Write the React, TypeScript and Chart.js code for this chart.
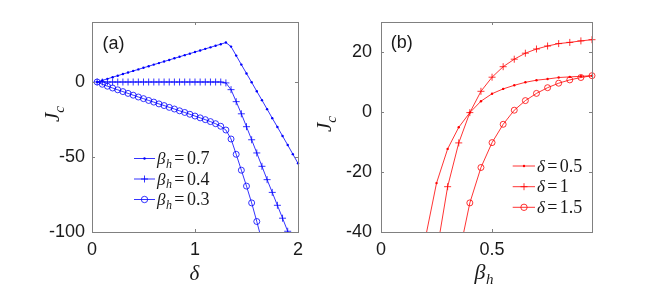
import React, { useEffect, useRef } from 'react';
import { Chart, registerables } from 'chart.js';
Chart.register(...registerables);

// ---------- Panel (a): Jc vs delta ----------
const DELTA = [0.05, 0.1, 0.15, 0.2, 0.25, 0.3, 0.35, 0.4, 0.45, 0.5, 0.55, 0.6, 0.65, 0.7, 0.75, 0.8, 0.85, 0.9, 0.95, 1.0,
  1.05, 1.1, 1.15, 1.2, 1.25, 1.3, 1.35, 1.4, 1.45, 1.5, 1.55, 1.6, 1.65, 1.7, 1.75, 1.8, 1.85, 1.9, 1.95, 2.0];
const JC_BETA_07 = [0, 1.1, 2.1, 3.2, 4.2, 5.3, 6.3, 7.4, 8.4, 9.5, 10.5, 11.6, 12.6, 13.7, 14.7, 15.8, 16.8, 17.9, 18.9, 20.0,
  21.0, 22.1, 23.1, 24.2, 25.2, 26.3, 23.6, 17.6, 11.6, 5.7, -0.2, -6.2, -12.1, -18.1, -24.1, -30.0, -36.0, -42.0, -48.1, -54.2];
const JC_BETA_04 = [0, 0, 0, 0, 0, 0, 0, 0, 0, 0, 0, 0, 0, 0, 0, 0, 0, 0, 0, 0,
  0, 0, 0, 0, 0, -0.6, -5.1, -13.1, -21.2, -29.8, -38.5, -47.3, -56.2, -65.1, -73.6, -82.2, -90.8, -99.5, -108.2, null];
const JC_BETA_03 = [0, -1.5, -2.8, -4.0, -5.2, -6.4, -7.6, -8.8, -10.0, -11.1, -12.3, -13.4, -14.6, -15.7, -16.9, -18.0, -19.2, -20.3, -21.5, -22.7,
  -23.9, -25.1, -26.4, -27.8, -29.5, -32.0, -38.0, -48.2, -58.8, -69.4, -80.6, -93.0, -106.0, null, null, null, null, null, null, null];
const A_X_TICKS = [0, 1, 2];
const A_Y_TICKS = [-100, -50, 0];
const A_LEGEND = ['0.7', '0.4', '0.3'];

// ---------- Panel (b): Jc vs beta_h ----------
const BETA_D05 = [0.2, 0.25, 0.3, 0.35, 0.4, 0.45, 0.5, 0.55, 0.6, 0.65, 0.7, 0.75, 0.8, 0.85, 0.9, 0.95];
const JC_D05 = [-42.0, -23.7, -12.3, -5.1, -0.2, 3.6, 6.1, 7.7, 8.9, 9.9, 10.6, 11.0, 11.5, 11.7, 11.9, 12.1];
const BETA_D1 = [0.25, 0.3, 0.35, 0.4, 0.45, 0.5, 0.55, 0.6, 0.65, 0.7, 0.75, 0.8, 0.85, 0.9, 0.95];
const JC_D1 = [-47.0, -24.9, -10.3, -0.2, 6.9, 11.6, 15.1, 17.6, 19.6, 21.0, 22.0, 22.8, 23.2, 23.7, 24.1];
const BETA_D15 = [0.35, 0.4, 0.45, 0.5, 0.55, 0.6, 0.65, 0.7, 0.75, 0.8, 0.85, 0.9, 0.95];
const JC_D15 = [-48.0, -30.3, -18.5, -10.2, -4.1, 0.6, 3.8, 6.2, 8.1, 9.6, 10.7, 11.5, 12.1];
const B_X_TICKS = [0, 0.5];
const B_Y_TICKS = [-40, -20, 0, 20];
const B_LEGEND = ['0.5', '1', '1.5'];

const BLUE = '#0000ff';
const RED = '#ff0000';
const AXIS = '#808080';
const TEXT = '#1a1a1a';
const SANS = '"Liberation Sans", Arial, Helvetica, sans-serif';
const SERIF = '"Liberation Serif", "Times New Roman", serif';

type Part = { t: string; font: string; dy?: number; dx?: number };
type Kind = 'dot' | 'plus' | 'circle';

function drawParts(ctx: CanvasRenderingContext2D, parts: Part[], x: number, y: number, align: 'left' | 'center') {
  const widths = parts.map((p) => { ctx.font = p.font; return ctx.measureText(p.t).width; });
  const total = widths.reduce((s, w, i) => s + w + (parts[i].dx || 0), 0);
  let cx = align === 'center' ? x - total / 2 : x;
  ctx.textAlign = 'left';
  ctx.textBaseline = 'alphabetic';
  parts.forEach((p, i) => {
    cx += p.dx || 0;
    ctx.font = p.font;
    ctx.fillText(p.t, cx, y + (p.dy || 0));
    cx += widths[i];
  });
}

function mathLabel(sym: string, sub: string | null, value: string | null, size: number): Part[] {
  const parts: Part[] = [{ t: sym, font: `italic ${size}px ${SERIF}` }];
  if (sub) parts.push({ t: sub, font: `italic ${Math.round(size * 0.7)}px ${SERIF}`, dy: size * 0.22, dx: 0.5 });
  if (value !== null) {
    parts.push({ t: '=', font: `${size + 1}px ${SERIF}`, dx: size * 0.14 });
    parts.push({ t: value, font: `${size + 1}px ${SERIF}`, dx: size * 0.14 });
  }
  return parts;
}

function drawMarker(ctx: CanvasRenderingContext2D, kind: Kind, x: number, y: number, color: string) {
  ctx.save();
  ctx.strokeStyle = color;
  ctx.fillStyle = color;
  ctx.lineWidth = 0.8;
  if (kind === 'dot') {
    ctx.beginPath(); ctx.arc(x, y, 1.2, 0, Math.PI * 2); ctx.fill();
  } else if (kind === 'plus') {
    ctx.beginPath(); ctx.moveTo(x - 3.5, y); ctx.lineTo(x + 3.5, y); ctx.moveTo(x, y - 3.5); ctx.lineTo(x, y + 3.5); ctx.stroke();
  } else {
    ctx.beginPath(); ctx.arc(x, y, 3.2, 0, Math.PI * 2); ctx.stroke();
  }
  ctx.restore();
}

function drawFrame(chart: any) {
  const { ctx, chartArea: a } = chart;
  ctx.save();
  ctx.strokeStyle = AXIS;
  ctx.lineWidth = 1;
  ctx.strokeRect(a.left + 0.5, a.top + 0.5, a.right - a.left, a.bottom - a.top);
  const xs = chart.scales.x, ys = chart.scales.y;
  ctx.beginPath();
  xs.ticks.forEach((t: any) => {
    const px = Math.round(xs.getPixelForValue(t.value)) + 0.5;
    if (px < a.left + 2 || px > a.right - 1) return;
    ctx.moveTo(px, a.bottom); ctx.lineTo(px, a.bottom - 3);
    ctx.moveTo(px, a.top); ctx.lineTo(px, a.top + 3);
  });
  ys.ticks.forEach((t: any) => {
    const py = Math.round(ys.getPixelForValue(t.value)) + 0.5;
    if (py < a.top + 2 || py > a.bottom - 1) return;
    ctx.moveTo(a.left, py); ctx.lineTo(a.left + 3, py);
    ctx.moveTo(a.right, py); ctx.lineTo(a.right - 3, py);
  });
  ctx.stroke();
  ctx.restore();
}

function pointOpts(kind: Kind, color: string) {
  if (kind === 'dot') return { pointStyle: 'circle', pointRadius: 1.2, pointBackgroundColor: color, pointBorderColor: color, pointBorderWidth: 0 };
  if (kind === 'plus') return { pointStyle: 'cross', pointRadius: 3.5, pointBackgroundColor: color, pointBorderColor: color, pointBorderWidth: 0.8 };
  return { pointStyle: 'circle', pointRadius: 3, pointBackgroundColor: 'rgba(0,0,0,0)', pointBorderColor: color, pointBorderWidth: 0.8 };
}

function series(xs: number[], ys: (number | null)[], kind: Kind, color: string, label: string) {
  return {
    label,
    data: xs.map((x, i) => ({ x, y: ys[i] })).filter((p) => p.y !== null),
    showLine: true,
    borderColor: color,
    borderWidth: 0.8,
    fill: false,
    tension: 0,
    clip: { left: 5, right: 5, top: 5, bottom: 0 },
    ...pointOpts(kind, color),
  };
}

function scaleOpts(min: number, max: number, ticks: number[], isX: boolean, size: number, pad: number) {
  return {
    type: 'linear',
    min,
    max,
    afterBuildTicks: (s: any) => { s.ticks = ticks.map((v) => ({ value: v })); },
    afterFit: (s: any) => { if (isX) s.height = size; else s.width = size; },
    grid: { display: false, drawTicks: false },
    border: { display: false },
    ticks: {
      font: { family: SANS, size: 18 },
      color: TEXT,
      padding: pad,
      maxRotation: 0,
      autoSkip: false,
      callback: (v: any) => `${v}`,
    },
  };
}

function configA(): any {
  const decor = {
    id: 'decorA',
    afterDraw(chart: any) {
      drawFrame(chart);
      const { ctx, chartArea: a } = chart;
      ctx.save();
      ctx.fillStyle = TEXT;
      drawParts(ctx, [{ t: '(a)', font: `18px ${SANS}` }], a.left + 10.5, 48.5, 'left');
      const kinds: Kind[] = ['dot', 'plus', 'circle'];
      const rows = [136.5, 157, 177.5];
      A_LEGEND.forEach((lab, i) => {
        const y = a.top + rows[i];
        ctx.strokeStyle = BLUE; ctx.lineWidth = 0.8;
        ctx.beginPath(); ctx.moveTo(a.left + 42, y); ctx.lineTo(a.left + 63, y); ctx.stroke();
        drawMarker(ctx, kinds[i], a.left + 52.5, y, BLUE);
        ctx.fillStyle = TEXT;
        drawParts(ctx, mathLabel('β', 'h', lab, 17), a.left + 65, y + 5.6, 'left');
      });
      drawParts(ctx, mathLabel('δ', null, null, 21), (a.left + a.right) / 2 - 0.5, 280, 'center');
      ctx.translate(59, 114);
      ctx.rotate(-Math.PI / 2);
      drawParts(ctx, [{ t: 'J', font: `italic 21px ${SERIF}` }, { t: 'c', font: `italic 15px ${SERIF}`, dy: 5, dx: 0 }], 0, 0, 'center');
      ctx.restore();
    },
  };
  return {
    type: 'scatter',
    data: {
      datasets: [
        series(DELTA, JC_BETA_07, 'dot', BLUE, 'βh=0.7'),
        series(DELTA, JC_BETA_04, 'plus', BLUE, 'βh=0.4'),
        series(DELTA, JC_BETA_03, 'circle', BLUE, 'βh=0.3'),
      ],
    },
    options: {
      responsive: false,
      animation: false,
      devicePixelRatio: 1,
      events: [],
      layout: { padding: { top: 22, right: 6, left: 0, bottom: 0 } },
      plugins: { legend: { display: false }, tooltip: { enabled: false } },
      scales: {
        x: scaleOpts(0, 2, A_X_TICKS, true, 56, 7),
        y: scaleOpts(-100, 40, A_Y_TICKS, false, 92, 7),
      },
    },
    plugins: [decor],
  };
}

function configB(): any {
  const decor = {
    id: 'decorB',
    afterDraw(chart: any) {
      drawFrame(chart);
      const { ctx, chartArea: a } = chart;
      ctx.save();
      ctx.fillStyle = TEXT;
      drawParts(ctx, [{ t: '(b)', font: `18px ${SANS}` }], a.left + 9.7, 48, 'left');
      const kinds: Kind[] = ['dot', 'plus', 'circle'];
      const rows = [144, 164.7, 185.3];
      B_LEGEND.forEach((lab, i) => {
        const y = a.top + rows[i];
        ctx.strokeStyle = RED; ctx.lineWidth = 0.8;
        ctx.beginPath(); ctx.moveTo(a.left + 131.7, y); ctx.lineTo(a.left + 154, y); ctx.stroke();
        drawMarker(ctx, kinds[i], a.left + 143, y, RED);
        ctx.fillStyle = TEXT;
        drawParts(ctx, mathLabel('δ', null, lab, 17), a.left + 156, y + 5.6, 'left');
      });
      drawParts(ctx, mathLabel('β', 'h', null, 22), a.left + 103, 279, 'center');
      ctx.translate(21, 124);
      ctx.rotate(-Math.PI / 2);
      drawParts(ctx, [{ t: 'J', font: `italic 21px ${SERIF}` }, { t: 'c', font: `italic 15px ${SERIF}`, dy: 5, dx: 0 }], 0, 0, 'center');
      ctx.restore();
    },
  };
  return {
    type: 'scatter',
    data: {
      datasets: [
        series(BETA_D05, JC_D05, 'dot', RED, 'δ=0.5'),
        series(BETA_D1, JC_D1, 'plus', RED, 'δ=1'),
        series(BETA_D15, JC_D15, 'circle', RED, 'δ=1.5'),
      ],
    },
    options: {
      responsive: false,
      animation: false,
      devicePixelRatio: 1,
      events: [],
      layout: { padding: { top: 22, right: 62, left: 0, bottom: 0 } },
      plugins: { legend: { display: false }, tooltip: { enabled: false } },
      scales: {
        x: scaleOpts(0, 0.95, B_X_TICKS, true, 56, 7),
        y: scaleOpts(-40, 30, B_Y_TICKS, false, 71, 9),
      },
    },
    plugins: [decor],
  };
}

export default function App() {
  const refA = useRef<HTMLCanvasElement>(null);
  const refB = useRef<HTMLCanvasElement>(null);
  useEffect(() => {
    const ca = new Chart(refA.current as HTMLCanvasElement, configA());
    const cb = new Chart(refB.current as HTMLCanvasElement, configB());
    return () => { ca.destroy(); cb.destroy(); };
  }, []);
  return (
    <div style={{ position: 'fixed', left: 0, top: 0, width: 654, height: 288, background: '#fff' }}>
      <canvas ref={refA} width={310} height={288} style={{ position: 'absolute', left: 0, top: 0, width: 310, height: 288 }} />
      <canvas ref={refB} width={344} height={288} style={{ position: 'absolute', left: 310, top: 0, width: 344, height: 288 }} />
    </div>
  );
}
